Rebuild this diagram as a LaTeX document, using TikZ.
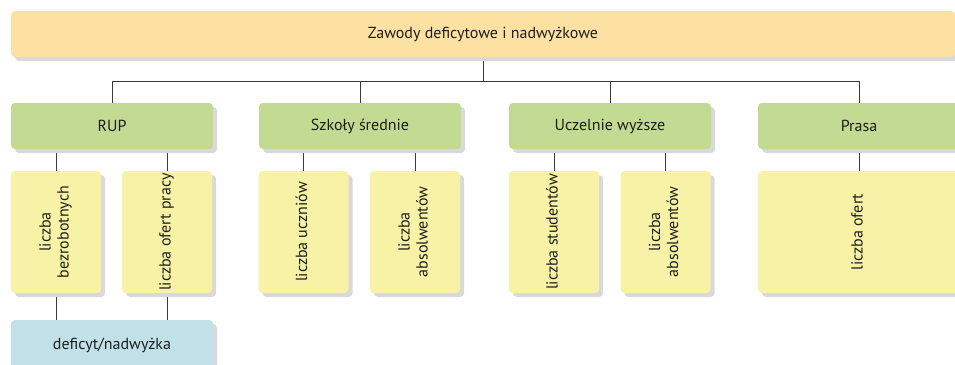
\documentclass[tikz,border=0pt]{standalone}
\usepackage{fontspec}
\setmainfont{PT Sans}
\usetikzlibrary{shadows,backgrounds}
\definecolor{topc}{HTML}{FDE1A2}
\definecolor{greenc}{HTML}{C2DA91}
\definecolor{yelc}{HTML}{F7F2A5}
\definecolor{bluec}{HTML}{C0E1E8}
\definecolor{shc}{HTML}{D9D9DB}
\definecolor{txtc}{HTML}{1E1E1E}
\definecolor{linec}{HTML}{3A3A3A}
\tikzset{
  box/.style={rounded corners=4pt, inner sep=0pt, text=txtc,
    font=\fontsize{16}{18}\selectfont,
    drop shadow={shadow xshift=4pt, shadow yshift=-4pt, fill=shc, opacity=1}},
  topbox/.style={box, fill=topc, minimum width=944pt, minimum height=46pt},
  catbox/.style={box, fill=greenc, minimum width=202pt, minimum height=46pt},
  ybox/.style={box, fill=yelc, minimum width=90pt, minimum height=122pt},
  wybox/.style={box, fill=yelc, minimum width=202pt, minimum height=122pt},
  bbox/.style={box, fill=bluec, minimum width=202pt, minimum height=50pt},
  conn/.style={draw=linec, line width=0.8pt}
}
\newcommand{\rtext}[1]{\rotatebox{90}{\begin{tabular}{@{}c@{}}#1\end{tabular}}}
\begin{document}
\begin{tikzpicture}[x=1pt,y=-1pt]
\clip (0,0) rectangle (955,364);
\useasboundingbox (0,0) rectangle (955,364);
% top
\node[topbox] (top) at (483,34) {Zawody deficytowe i nadwyżkowe};
% categories
\node[catbox] (rup) at (112,126) {RUP};
\node[catbox] (szk) at (360,126) {Szkoły średnie};
\node[catbox] (ucz) at (610,126) {Uczelnie wyższe};
\node[catbox] (pra) at (859,126) {Prasa};
% indicators
\node[ybox] (bez) at (56,232) {\rtext{liczba\\bezrobotnych}};
\node[ybox] (ofp) at (167,232) {\rtext{liczba ofert pracy}};
\node[ybox] (ucn) at (303.5,232) {\rtext{liczba uczniów}};
\node[ybox] (abs1) at (415,232) {\rtext{liczba\\absolwentów}};
\node[ybox] (stu) at (554,232) {\rtext{liczba studentów}};
\node[ybox] (abs2) at (665.5,232) {\rtext{liczba\\absolwentów}};
\node[wybox] (ofe) at (859,232) {\rtext{liczba ofert}};
% result
\node[bbox] (def) at (112,345) {deficyt/nadwyżka};
% connectors
\begin{scope}[on background layer]
\coordinate (busy) at (0,81);
\draw[conn] (top.south) -- (top.south |- busy);
\draw[conn] (rup.north) |- (busy -| pra.north) -- (pra.north);
\draw[conn] (szk.north) -- (szk.north |- busy);
\draw[conn] (ucz.north) -- (ucz.north |- busy);
\draw[conn] (rup.south -| bez.north) -- (bez.north);
\draw[conn] (rup.south -| ofp.north) -- (ofp.north);
\draw[conn] (szk.south -| ucn.north) -- (ucn.north);
\draw[conn] (szk.south -| abs1.north) -- (abs1.north);
\draw[conn] (ucz.south -| stu.north) -- (stu.north);
\draw[conn] (ucz.south -| abs2.north) -- (abs2.north);
\draw[conn] (pra.south) -- (ofe.north);
\draw[conn] (bez.south) -- (def.north -| bez.south);
\draw[conn] (ofp.south) -- (def.north -| ofp.south);
\end{scope}
\end{tikzpicture}
\end{document}
